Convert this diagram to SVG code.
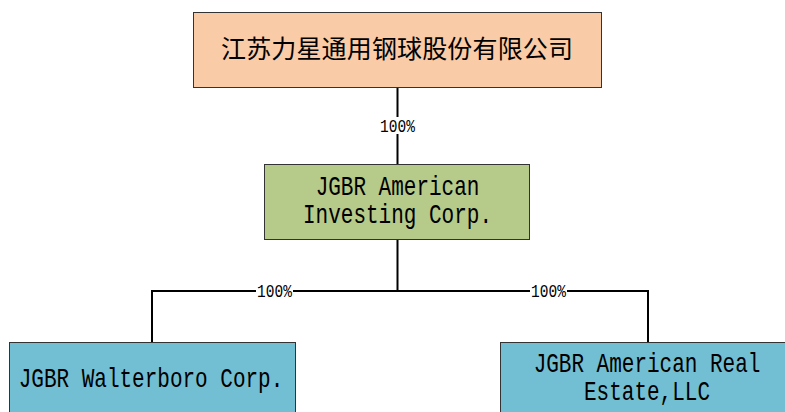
<svg xmlns="http://www.w3.org/2000/svg" width="785" height="412" viewBox="0 0 785 412">
<style>
.box{stroke:#333;stroke-width:1}
.t{font-family:"Liberation Mono","DejaVu Sans Mono",monospace;font-size:21px;fill:#000;text-anchor:middle}
.cn{font-family:"Noto Sans CJK SC","Noto Sans CJK JP",sans-serif;font-size:25px;fill:#000;text-anchor:middle}
.lbl{font-family:"Liberation Mono","DejaVu Sans Mono",monospace;font-size:14.5px;fill:#000;text-anchor:middle}
.c{stroke:#000;stroke-width:2;fill:none}
</style>
<rect width="785" height="412" fill="#fff"/>
<g id="connectors">
<path class="c" d="M397.5 88V164"/>
<path class="c" d="M397.5 240V291M152 342V291H648V342"/>
<rect x="378" y="117" width="39" height="17" fill="#fff"/>
<text class="lbl" transform="translate(397.5 131.5) scale(1 1.25)">100%</text>
<rect x="256" y="283" width="37" height="15" fill="#fff"/>
<text class="lbl" transform="translate(274.5 296.5) scale(1 1.25)">100%</text>
<rect x="530" y="283" width="37" height="15" fill="#fff"/>
<text class="lbl" transform="translate(548.5 296.5) scale(1 1.25)">100%</text>
</g>
<g id="n1">
<rect class="box" x="193.5" y="12.5" width="408" height="75" fill="#FACBA7"/>
<text class="cn" x="397" y="58" textLength="352" lengthAdjust="spacing">江苏力星通用钢球股份有限公司</text>
</g>
<g id="n2">
<rect class="box" x="264.5" y="164.5" width="265" height="75" fill="#B6CA8A"/>
<text class="t" transform="translate(397.5 195) scale(1 1.3)">JGBR American</text>
<text class="t" transform="translate(397.5 223) scale(1 1.3)">Investing Corp.</text>
</g>
<g id="n3">
<rect class="box" x="9.5" y="342.5" width="286" height="80" fill="#72BFD3"/>
<text class="t" transform="translate(151 387) scale(1 1.3)">JGBR Walterboro Corp.</text>
</g>
<g id="n4">
<rect class="box" x="500.5" y="342.5" width="300" height="80" fill="#72BFD3"/>
<text class="t" transform="translate(647 372) scale(1 1.3)">JGBR American Real</text>
<text class="t" transform="translate(647 400) scale(1 1.3)">Estate,LLC</text>
</g>
</svg>
